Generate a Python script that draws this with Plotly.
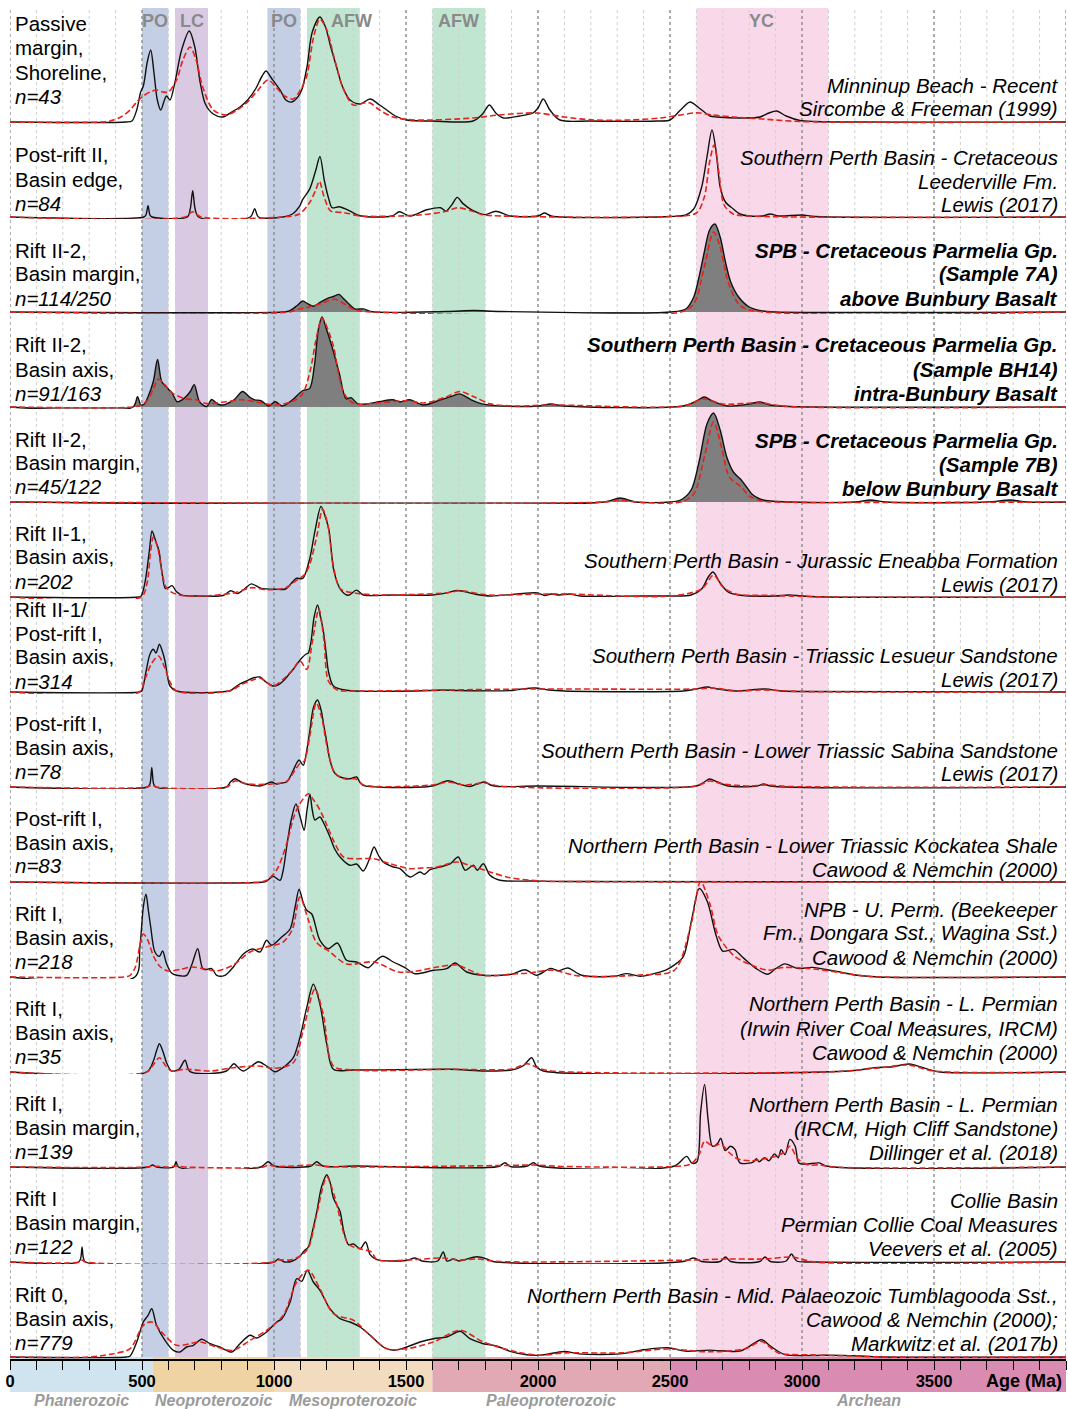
import plotly.graph_objects as go

# ---------------------------------------------------------------------------
# Detrital zircon age spectra, Perth & Collie basins (age in Ma, relative density)
# Each row: KDE (black solid) and PDP (red dashed) as (age, density) pairs.
# ---------------------------------------------------------------------------

ROW01_KDE = [(0, 0), (440, 0), (462, 1), (480, 12), (495, 30), (505, 36), (520, 60), (533, 72), (545, 50),
             (558, 22), (571, 12), (585, 22), (593, 26), (606, 22), (625, 40), (650, 72), (679, 91), (700, 75),
             (720, 40), (740, 18), (770, 8), (806, 5), (840, 10), (871, 15), (900, 22), (930, 33), (955, 46),
             (970, 51), (990, 44), (1023, 32), (1045, 22), (1067, 20), (1090, 25), (1105, 32), (1125, 55),
             (1145, 90), (1174, 105), (1195, 95), (1215, 75), (1237, 55), (1260, 35), (1288, 22), (1326, 18),
             (1364, 23), (1400, 17), (1427, 12), (1460, 6), (1503, 2), (1600, 1), (1754, 1), (1790, 8),
             (1816, 17), (1840, 9), (1869, 4), (1930, 6), (1981, 9), (2000, 14), (2020, 23), (2045, 12),
             (2083, 2), (2200, 1), (2450, 1), (2500, 2), (2540, 12), (2576, 20), (2610, 14), (2652, 6),
             (2677, 5), (2780, 4), (2841, 5), (2875, 9), (2904, 11), (2940, 6), (2992, 1.5), (3050, 0.5),
             (4000, 0)]
ROW01_PDP = [(0, 0), (350, 0), (379, 1), (420, 5), (455, 12), (480, 20), (505, 26), (530, 30), (555, 32),
             (580, 30), (600, 30), (631, 42), (655, 62), (682, 75), (705, 62), (730, 35), (770, 12), (821, 7),
             (860, 12), (896, 19), (940, 32), (978, 42), (1010, 34), (1040, 26), (1073, 23), (1100, 32),
             (1124, 46), (1150, 85), (1174, 103), (1200, 92), (1230, 62), (1260, 35), (1300, 17), (1340, 19),
             (1364, 19), (1400, 12), (1451, 5), (1530, 2), (1754, 4), (1850, 7), (1995, 9), (2100, 5),
             (2210, 2), (2350, 2), (2462, 4), (2540, 7), (2588, 9), (2614, 9), (2660, 7), (2740, 5),
             (2850, 3), (2992, 0.5), (4000, 0)]

ROW02_KDE = [(0, 0), (507, 0), (515, 2), (523, 11.4), (530, 2), (538, 0), (672, 0), (683, 8.3), (692, 26.4),
             (701, 8.3), (714, 0), (910, 0), (927, 8.3), (941, 0), (1034, 0), (1070, 3), (1096, 10.3),
             (1109, 17.6), (1135, 27.9), (1158, 46.5), (1174, 60.5), (1191, 36), (1208, 17.6), (1220, 9.3),
             (1247, 10.3), (1279, 7.2), (1325, 1.3), (1447, 1), (1475, 5.2), (1514, 1), (1579, 7.2),
             (1631, 9.3), (1651, 5.8), (1674, 12.4), (1694, 19.6), (1716, 13.4), (1749, 7.2), (1800, 2.4),
             (1840, 5.8), (1894, 1), (2000, 1), (2025, 4), (2050, 1), (2500, 0.5), (2560, 2), (2590, 8),
             (2620, 30), (2640, 60), (2659, 87), (2675, 65), (2690, 30), (2710, 15), (2740, 8), (2765, 3),
             (2800, 1), (2850, 1), (2880, 3), (2910, 1), (3000, 2), (3050, 0.5), (4000, 0)]
ROW02_PDP = [(0, 0), (662, 0), (692, 5.2), (724, 0), (1034, 0), (1096, 3), (1135, 14.5), (1158, 26.9),
             (1172, 35.7), (1189, 20.7), (1214, 6.2), (1264, 4.4), (1331, 1), (1551, 2), (1654, 5.8),
             (1696, 9.3), (1757, 5.2), (1788, 2.4), (1860, 1), (2500, 0.5), (2600, 4), (2630, 20), (2650, 55),
             (2667, 72), (2685, 45), (2705, 12), (2740, 3), (2800, 1), (4000, 0)]

ROW03_KDE = [(0, 0), (1034, 0), (1058, 1), (1086, 6.2), (1109, 11), (1127, 8.3), (1149, 5.8), (1173, 9.3),
             (1201, 13.4), (1225, 15.5), (1247, 17.6), (1263, 13.4), (1279, 9.3), (1306, 3.1), (1339, 3.1),
             (1371, 0.3), (1654, 0.5), (1757, 1.5), (1860, 0.5), (2500, 0), (2560, 3), (2590, 15), (2610, 35),
             (2630, 60), (2650, 82), (2670, 88), (2690, 75), (2710, 50), (2730, 30), (2760, 15), (2800, 5),
             (2850, 1), (2900, 0), (4000, 0)]
ROW03_PDP = [(0, 0), (1055, 0), (1096, 3), (1137, 5.2), (1189, 9.3), (1230, 12.7), (1272, 7.2), (1306, 2),
             (1344, 0.5), (2540, 0), (2590, 8), (2630, 45), (2665, 80), (2690, 65), (2720, 30), (2760, 8),
             (2800, 2), (4000, 0)]

ROW04_KDE = [(0, 0), (466, 0), (483, 10.3), (496, 2), (509, 3), (523, 10.3), (543, 25.8), (559, 47.5),
             (574, 25.8), (590, 20.7), (601, 17.6), (614, 14.2), (633, 5.2), (652, 7.2), (666, 10.3),
             (683, 15.5), (698, 22.4), (718, 5.2), (745, 0.5), (764, 7.5), (786, 3), (807, 2), (827, 4),
             (849, 7.2), (881, 15.5), (910, 9.3), (927, 7.2), (952, 6.2), (979, 1), (1005, 5.2), (1031, 1),
             (1070, 7.2), (1109, 16.5), (1135, 18.6), (1153, 41.3), (1168, 77.5), (1182, 90), (1199, 77.5),
             (1220, 60), (1247, 34), (1273, 8.3), (1292, 9.3), (1318, 3.1), (1354, 3.1), (1397, 5.2),
             (1449, 7.2), (1478, 5.2), (1514, 7.2), (1566, 2), (1631, 7.2), (1669, 10.3), (1703, 13.1),
             (1747, 7.2), (1788, 3.1), (1894, 0.7), (2000, 1), (2050, 3), (2100, 1), (2550, 1), (2600, 6),
             (2630, 10), (2660, 6), (2720, 1), (2800, 3), (2840, 5), (2880, 2), (2950, 0.5), (4000, 0)]
ROW04_PDP = [(0, 0), (466, 0), (497, 2), (523, 7.2), (543, 18.6), (562, 27.9), (585, 22.7), (614, 14.2),
             (662, 8.3), (703, 7.2), (745, 3.4), (817, 5.2), (875, 7.2), (931, 5.2), (1005, 2), (1075, 6.2),
             (1109, 13.4), (1137, 36.2), (1163, 72.3), (1182, 89), (1204, 77.5), (1227, 58.9), (1246, 31),
             (1266, 13.4), (1303, 3.4), (1396, 4.1), (1499, 6.2), (1571, 4.1), (1654, 10.3), (1703, 15.5),
             (1757, 10.3), (1819, 3.1), (1912, 1), (2050, 2), (2550, 1), (2630, 8), (2700, 3), (2840, 4),
             (2950, 0.5), (4000, 0)]

ROW05_KDE = [(0, 0), (2250, 0), (2310, 4), (2370, 0), (2500, 0), (2540, 2), (2580, 12), (2610, 40),
             (2640, 78), (2665, 89), (2690, 72), (2715, 45), (2740, 30), (2770, 22), (2790, 15), (2810, 8),
             (2840, 3), (2880, 1), (2950, 0), (3200, 0), (3260, 2), (3320, 0), (3700, 0), (3790, 2),
             (3850, 0), (4000, 0)]
ROW05_PDP = [(0, 0), (2250, 0), (2310, 2), (2370, 0), (2540, 0), (2590, 8), (2630, 45), (2665, 80),
             (2695, 55), (2725, 25), (2770, 15), (2800, 6), (2850, 1), (2900, 0), (4000, 0)]

ROW06_KDE = [(0, 0), (486, 0), (497, 1), (512, 15.5), (528, 46.5), (538, 66), (551, 56.8), (564, 46.5),
             (575, 25.8), (588, 8.6), (600, 9.3), (614, 11.4), (631, 5.2), (653, 1.7), (724, 1), (807, 1.5),
             (836, 6.2), (862, 3.4), (889, 8.3), (914, 13.1), (952, 8.6), (1003, 7.7), (1044, 8), (1065, 13.4),
             (1084, 18.6), (1109, 18.6), (1135, 37.9), (1156, 67.1), (1178, 90.6), (1194, 80.6), (1208, 67.1),
             (1227, 25.8), (1253, 7.2), (1282, 1.7), (1312, 6.9), (1339, 2), (1447, 2), (1602, 2), (1654, 4.1),
             (1696, 6.5), (1757, 3.1), (1819, 1), (1997, 4.1), (2025, 1.5), (2050, 3), (2080, 2), (2120, 3),
             (2160, 1), (2400, 1), (2500, 1), (2580, 2), (2620, 8), (2645, 20), (2663, 25), (2690, 14),
             (2720, 5), (2760, 2), (2900, 1), (2950, 2), (3000, 1), (3100, 0), (4000, 0)]
ROW06_PDP = [(0, 0), (497, 0), (518, 12.4), (533, 46.5), (543, 59.9), (559, 49.6), (575, 25.8), (590, 10.3),
             (610, 5.2), (641, 2), (724, 1), (848, 4.1), (914, 9.3), (972, 7.2), (1044, 9.3), (1084, 16.5),
             (1117, 22.7), (1137, 34), (1163, 62), (1184, 87.8), (1204, 72.3), (1225, 31), (1251, 8.3),
             (1303, 4.1), (1396, 2), (1654, 4.1), (1706, 6.2), (1809, 2), (2000, 3), (2100, 3), (2500, 1),
             (2620, 8), (2665, 22), (2700, 10), (2750, 3), (2900, 1.5), (3100, 0), (4000, 0)]

ROW07_KDE = [(0, 0), (490, 0), (499, 1), (515, 20), (530, 37.7), (543, 42.7), (553, 39), (566, 47.7),
             (578, 40), (587, 31), (597, 15), (606, 6), (631, 1), (830, 1), (846, 3.3), (870, 8), (896, 11),
             (920, 14), (947, 15), (970, 10), (997, 6), (1015, 7), (1035, 11), (1055, 17), (1073, 22.7),
             (1090, 29), (1105, 34), (1122, 38), (1130, 39), (1140, 50), (1152, 75), (1165, 87), (1176, 75),
             (1187, 61), (1198, 38), (1206, 21), (1225, 6), (1275, 1.7), (1600, 1.5), (1635, 2), (1700, 1.5),
             (1900, 1.5), (1930, 2.7), (1990, 4), (2040, 2), (2100, 1), (2550, 1), (2600, 3), (2640, 5),
             (2680, 3), (2750, 1), (2860, 3), (2920, 1), (3000, 0.5), (4000, 0)]
ROW07_PDP = [(0, 0), (490, 0), (510, 12), (535, 28), (562, 36), (585, 25), (606, 10), (631, 1), (830, 1),
             (880, 8), (920, 12), (947, 14), (975, 9), (997, 6), (1040, 14), (1070, 22), (1098, 31),
             (1124, 22.7), (1145, 50), (1170, 83), (1190, 50), (1206, 11), (1240, 2), (1300, 1), (1650, 2),
             (2000, 3), (2600, 3), (2660, 4), (2760, 1), (2850, 2), (3000, 0.5), (4000, 0)]

ROW08_KDE = [(0, 0), (520, 0), (530, 3), (537, 19.6), (544, 3), (552, 0), (820, 0), (835, 5), (852, 8.3),
             (875, 5), (896, 3), (947, 1), (970, 3), (991, 5), (1010, 3), (1030, 4), (1048, 5), (1073, 16.7),
             (1086, 24), (1095, 27), (1111, 21.7), (1125, 38), (1136, 56.7), (1150, 80), (1165, 87),
             (1180, 75), (1187, 64), (1200, 45), (1212, 26.7), (1230, 14), (1250, 10), (1288, 8.3),
             (1313, 10), (1325, 5), (1338, 1.7), (1600, 1), (1640, 5), (1660, 6.3), (1700, 3), (1742, 0.5),
             (1770, 3), (1799, 5), (1820, 2), (1850, 0.5), (2000, 1), (2600, 1), (2630, 5), (2650, 8),
             (2680, 5), (2720, 1), (2830, 1), (2855, 3), (2880, 1), (4000, 0)]
ROW08_PDP = [(0, 0), (520, 0), (537, 2), (555, 0), (820, 0), (852, 6), (900, 3), (990, 3), (1050, 6),
             (1080, 17), (1100, 24), (1115, 26), (1135, 50), (1160, 84), (1180, 70), (1205, 35), (1230, 14),
             (1270, 8), (1310, 8), (1340, 2), (1600, 2), (1660, 5), (1720, 2), (1800, 4), (1850, 1),
             (2600, 1), (2650, 6), (2700, 3), (2800, 1), (2860, 2), (2950, 0.5), (4000, 0)]

ROW09_KDE = [(0, 0), (960, 0), (972, 1), (997, 5.6), (1023, 1.7), (1035, 12), (1048, 35), (1065, 62),
             (1083, 78), (1100, 64), (1114, 51.7), (1125, 72), (1136, 87.7), (1145, 72), (1155, 62),
             (1174, 65), (1190, 58), (1212, 45), (1230, 33), (1250, 25), (1288, 16.7), (1313, 18),
             (1338, 11), (1360, 22), (1379, 35), (1395, 27), (1414, 20), (1452, 15), (1477, 13.3), (1515, 5),
             (1553, 10), (1570, 7.7), (1591, 12.3), (1629, 15), (1667, 18), (1698, 25), (1724, 11.7),
             (1755, 16.7), (1770, 11.7), (1793, 18.3), (1818, 6.7), (1856, 1.7), (1982, 1), (2100, 0.5),
             (4000, 0)]
ROW09_PDP = [(0, 0), (950, 0), (972, 1.7), (1010, 12), (1048, 38.3), (1075, 65), (1098, 78.3), (1130, 88.3),
             (1150, 82), (1174, 72), (1200, 57), (1225, 41.7), (1263, 25), (1313, 23.3), (1376, 23.3),
             (1439, 18.3), (1515, 13.3), (1560, 14), (1617, 15), (1692, 20), (1740, 16.7), (1818, 10),
             (1894, 4.3), (2008, 1), (2100, 0.5), (4000, 0)]

ROW10_KDE = [(0, 0), (473, 0), (492, 30), (505, 70), (515, 82.7), (525, 65), (533, 50), (549, 25),
             (566, 20.7), (578, 26), (593, 13.3), (612, 4), (631, 1.7), (669, 1.7), (690, 13.3), (711, 28.3),
             (732, 7.7), (764, 8.3), (783, 1.7), (814, 1.7), (846, 10), (884, 23), (919, 28), (947, 25),
             (972, 36.7), (991, 31.7), (1029, 40), (1061, 48), (1080, 70), (1095, 87.7), (1110, 75),
             (1124, 66.7), (1143, 63), (1174, 36.7), (1206, 28.3), (1240, 34), (1275, 16.7), (1313, 15),
             (1357, 9.3), (1385, 16), (1412, 20.7), (1452, 15), (1496, 9.3), (1534, 3.3), (1604, 6.7),
             (1654, 8.3), (1686, 14), (1730, 5), (1793, 1.7), (1900, 2.7), (1951, 7.3), (1995, 1.7),
             (2047, 8.6), (2078, 6.2), (2113, 9), (2165, 1.8), (2290, 0.7), (2335, 3.4), (2387, 0.7),
             (2439, 3.4), (2486, 7.2), (2517, 12.1), (2551, 20.7), (2583, 58.6), (2611, 88.5), (2641, 75.7),
             (2675, 41.3), (2700, 25.8), (2740, 27.6), (2779, 18.9), (2827, 8.3), (2870, 2.8), (2900, 8.3),
             (2935, 13.1), (2982, 8.6), (3039, 9.6), (3118, 6.2), (3209, 1.8), (3292, 0), (4000, 0)]
ROW10_PDP = [(0, 0), (430, 0), (455, 1.7), (475, 10), (492, 31.7), (505, 43), (520, 38), (545, 20),
             (570, 10), (600, 6), (650, 8), (690, 10), (740, 8), (783, 6), (846, 12), (909, 25), (972, 30),
             (1035, 35), (1070, 48), (1098, 80), (1130, 57), (1160, 35), (1212, 25), (1275, 13), (1380, 15),
             (1470, 5), (1540, 6), (1620, 10), (1690, 12), (1793, 1.7), (1920, 3.3), (1970, 4), (2053, 6.9),
             (2156, 1), (2394, 2.1), (2517, 6.9), (2579, 51.7), (2616, 95.3), (2652, 72.3), (2683, 41.3),
             (2745, 20.7), (2807, 12.1), (2869, 6.9), (2931, 9.6), (3065, 7.5), (3209, 1.8), (3292, 0),
             (4000, 0)]

ROW11_KDE = [(0, 0), (518, 0), (543, 11), (556, 22), (566, 28.3), (580, 20), (593, 9.3), (612, 1),
             (640, 2.7), (663, 11.7), (682, 0.3), (820, 1), (848, 8.3), (870, 3), (884, 1), (915, 6),
             (941, 10.3), (972, 6), (1004, 0.3), (1042, 6), (1073, 14.3), (1098, 34.3), (1124, 64.3),
             (1149, 87.7), (1174, 67.7), (1200, 27.7), (1225, 2.7), (1300, 2), (1667, 2.7), (1800, 1),
             (1900, 2), (1943, 6), (1976, 14.3), (1995, 5), (2020, 1), (3137, 0.5), (3209, 1.8), (3274, 4.4),
             (3344, 5.2), (3405, 8), (3482, 2.4), (3522, 0), (4000, 0)]
ROW11_PDP = [(0, 0), (518, 0), (545, 8), (566, 14.3), (590, 6), (612, 1), (663, 2.7), (760, 1), (846, 4.3),
             (941, 6), (1004, 3.7), (1073, 9.3), (1110, 41), (1155, 83), (1187, 57), (1225, 6), (1300, 2),
             (1667, 2.7), (1900, 3), (1960, 8.3), (2000, 4), (2050, 1), (3137, 0.5), (3292, 4.1), (3405, 6.9),
             (3499, 1), (4000, 0)]

ROW12_KDE = [(0, 0), (525, 0), (540, 2), (555, 0), (620, 0), (629, 5.3), (638, 0), (950, 0), (978, 5.3),
             (1000, 1), (1140, 1), (1162, 5.3), (1185, 1), (1313, 1), (1850, 0.5), (1875, 4.3), (1895, 0.5),
             (1960, 1), (1982, 4.3), (2005, 1), (2517, 1), (2563, 10.6), (2583, 3.8), (2602, 5.2),
             (2616, 54.7), (2631, 82.6), (2644, 48.2), (2661, 20.7), (2681, 23.8), (2692, 28.9), (2709, 16.5),
             (2729, 20.7), (2746, 17.6), (2765, 4.1), (2817, 5.2), (2827, 8.3), (2838, 5.2), (2858, 9.3),
             (2874, 6.2), (2896, 13.1), (2910, 9.3), (2921, 17.3), (2936, 12.4), (2954, 27.6), (2974, 20.7),
             (2988, 4.1), (3013, 2.8), (3065, 4.1), (3096, 0.7), (4000, 0)]
ROW12_PDP = [(0, 0), (520, 0), (540, 1), (600, 0), (629, 1), (660, 0), (960, 0), (978, 2), (1010, 0.5),
             (1162, 2), (1200, 0.5), (1875, 1.5), (1982, 2), (2100, 0.5), (2517, 0.5), (2579, 3.1),
             (2610, 12.4), (2631, 25.8), (2662, 20.7), (2693, 22.7), (2724, 14.5), (2755, 8.3), (2807, 6.2),
             (2879, 9.3), (2931, 14.5), (2955, 20.7), (2983, 8.3), (3024, 2.1), (3065, 2.1), (3117, 0),
             (4000, 0)]

ROW13_KDE = [(0, 0), (260, 0), (268, 4), (273, 15), (278, 4), (286, 0), (1000, 0), (1016, 3), (1040, 0),
             (1070, 1), (1098, 5.7), (1114, 11), (1130, 15), (1145, 30), (1162, 50), (1180, 75), (1200, 87.3),
             (1212, 80), (1225, 64), (1240, 56), (1250, 50.7), (1265, 30), (1282, 17.3), (1301, 18),
             (1326, 13.3), (1347, 20), (1364, 7.3), (1389, 2.3), (1500, 1.5), (1534, 4), (1560, 1), (1620, 1),
             (1641, 10), (1655, 1), (1680, 3), (1700, 1), (1768, 5.3), (1806, 3), (1830, 0.5), (2550, 0.5),
             (2590, 4), (2620, 0.5), (2690, 0.5), (2710, 5), (2730, 0.5), (2840, 0.5), (2860, 5),
             (2880, 0.5), (2940, 1), (2960, 8), (2980, 1), (3050, 0), (4000, 0)]
ROW13_PDP = [(0, 0), (265, 0), (273, 2), (285, 0), (1000, 0), (1016, 2), (1060, 2), (1100, 6), (1130, 14),
             (1162, 48), (1200, 85), (1230, 65), (1282, 18), (1330, 13), (1370, 10), (1389, 2.3),
             (1534, 2.5), (1641, 4), (1700, 2), (1768, 3), (1850, 0.5), (2590, 2), (2710, 3), (2860, 3),
             (2960, 5), (3050, 0), (4000, 0)]

ROW14_KDE = [(0, 0), (440, 0), (455, 1), (480, 15), (505, 35), (523, 41.7), (537, 48.3), (555, 31.7),
             (587, 16.7), (619, 6.7), (644, 5), (669, 10), (695, 11.7), (726, 17.7), (758, 13.3), (795, 10),
             (840, 5), (871, 13.3), (909, 21.7), (934, 19), (972, 25), (1010, 35), (1029, 38), (1061, 55),
             (1086, 78.3), (1105, 75.7), (1126, 86.7), (1149, 75), (1174, 66.7), (1212, 48.3), (1250, 38.3),
             (1288, 35), (1326, 30), (1364, 21.7), (1414, 10), (1452, 6.7), (1503, 10), (1553, 15),
             (1604, 18.3), (1654, 20), (1705, 25.7), (1742, 18.3), (1793, 13.3), (1843, 11), (1894, 5.7),
             (1957, 2.3), (2008, 1.7), (2100, 5.5), (2156, 3.1), (2311, 3.1), (2400, 7.2), (2492, 9.3),
             (2557, 5.9), (2648, 6.9), (2765, 5.9), (2805, 11.4), (2846, 17.3), (2883, 10.3), (2935, 2.4),
             (3092, 1.8), (3222, 1), (3313, 0), (4000, 0)]
ROW14_PDP = [(0, 0), (300, 0), (391, 3.3), (455, 8.3), (505, 31.7), (537, 35), (581, 23), (631, 11.7),
             (720, 15), (783, 10), (846, 6.7), (909, 16.7), (972, 26.7), (1035, 41.7), (1086, 75),
             (1130, 86.7), (1174, 68.3), (1225, 43.3), (1301, 36.7), (1351, 25), (1427, 8.3), (1503, 8.3),
             (1604, 15), (1705, 26.7), (1793, 15), (1919, 5), (2008, 1.7), (2100, 4.1), (2311, 4.1),
             (2492, 8), (2648, 5.2), (2786, 8.3), (2846, 15.5), (2910, 4.1), (3034, 2.1), (3189, 1),
             (3313, 0), (4000, 0)]

KDE_ROWS = [ROW01_KDE, ROW02_KDE, ROW03_KDE, ROW04_KDE, ROW05_KDE, ROW06_KDE, ROW07_KDE,
            ROW08_KDE, ROW09_KDE, ROW10_KDE, ROW11_KDE, ROW12_KDE, ROW13_KDE, ROW14_KDE]
PDP_ROWS = [ROW01_PDP, ROW02_PDP, ROW03_PDP, ROW04_PDP, ROW05_PDP, ROW06_PDP, ROW07_PDP,
            ROW08_PDP, ROW09_PDP, ROW10_PDP, ROW11_PDP, ROW12_PDP, ROW13_PDP, ROW14_PDP]
FILLED_ROWS = {2, 3, 4}   # samples shown as shaded KDE

SETTING = [["Passive", "margin,", "Shoreline,"], ["Post-rift II,", "Basin edge,"],
           ["Rift II-2,", "Basin margin,"], ["Rift II-2,", "Basin axis,"], ["Rift II-2,", "Basin margin,"],
           ["Rift II-1,", "Basin axis,"], ["Rift II-1/", "Post-rift I,", "Basin axis,"],
           ["Post-rift I,", "Basin axis,"], ["Post-rift I,", "Basin axis,"], ["Rift I,", "Basin axis,"],
           ["Rift I,", "Basin axis,"], ["Rift I,", "Basin margin,"], ["Rift I", "Basin margin,"],
           ["Rift 0,", "Basin axis,"]]
SAMPLE_N = ["n=43", "n=84", "n=114/250", "n=91/163", "n=45/122", "n=202", "n=314", "n=78", "n=83",
            "n=218", "n=35", "n=139", "n=122", "n=779"]
SOURCE = [["Minninup Beach - Recent", "Sircombe & Freeman (1999)"],
          ["Southern Perth Basin - Cretaceous", "Leederville Fm.", "Lewis (2017)"],
          ["SPB - Cretaceous Parmelia Gp.", "(Sample 7A)", "above Bunbury Basalt"],
          ["Southern Perth Basin - Cretaceous Parmelia Gp.", "(Sample BH14)", "intra-Bunbury Basalt"],
          ["SPB - Cretaceous Parmelia Gp.", "(Sample 7B)", "below Bunbury Basalt"],
          ["Southern Perth Basin - Jurassic Eneabba Formation", "Lewis (2017)"],
          ["Southern Perth Basin - Triassic Lesueur Sandstone", "Lewis (2017)"],
          ["Southern Perth Basin - Lower Triassic Sabina Sandstone", "Lewis (2017)"],
          ["Northern Perth Basin - Lower Triassic Kockatea Shale", "Cawood & Nemchin (2000)"],
          ["NPB - U. Perm. (Beekeeper", "Fm., Dongara Sst., Wagina Sst.)", "Cawood & Nemchin (2000)"],
          ["Northern Perth Basin - L. Permian", "(Irwin River Coal Measures, IRCM)", "Cawood & Nemchin (2000)"],
          ["Northern Perth Basin - L. Permian", "(IRCM, High Cliff Sandstone)", "Dillinger et al. (2018)"],
          ["Collie Basin", "Permian Collie Coal Measures", "Veevers et al. (2005)"],
          ["Northern Perth Basin - Mid. Palaeozoic Tumblagooda Sst.,", "Cawood & Nemchin (2000);",
           "Markwitz et al. (2017b)"]]

# Source-terrane age windows (Ma)
TERRANE_NAMES = ["PO", "LC", "PO", "AFW", "AFW", "YC"]
TERRANE_START = [500, 625, 975, 1125, 1600, 2600]
TERRANE_END = [600, 750, 1100, 1325, 1800, 3100]
TERRANE_LABEL_AGE = [550, 688, 1036, 1292, 1700, 2848]

# Geological eons / eras for the time bar (Ma)
ERA_NAMES = ["Phanerozoic", "Neoproterozoic", "Mesoproterozoic", "Paleoproterozoic", "Archean"]
ERA_START = [0, 541, 1000, 1600, 2500]
ERA_END = [541, 1000, 1600, 2500, 4000]

AGE_TICKS = [0, 500, 1000, 1500, 2000, 2500, 3000, 3500, 4000]
AGE_TICK_TEXT = ["0", "500", "1000", "1500", "2000", "2500", "3000", "3500", ""]

# ---------------------------------------------------------------------------
# Layout geometry and styling
# ---------------------------------------------------------------------------
W, H = 1068, 1409
PLOT_L, PLOT_R = 10, 1066          # pixel span of 0-4000 Ma
ROW_BASE0, ROW_STEP = 122, 95      # baseline of first row, row pitch (px)
ROW_HEADROOM = 110                 # px of y-range above each baseline
ROW_FOOT = 2                       # px below baseline kept visible
TOP_PX, BAR_TOP, BAR_BOT = 8, 1357, 1392

TERRANE_COLORS = ["#c4cfe6", "#d9c9e2", "#c4cfe6", "#c0e6d2", "#c0e6d2", "#f9d8e9"]
ERA_COLORS = ["#cfe4ee", "#f0d3a2", "#f3dbbf", "#e0a9b3", "#d98bb1"]
KDE_COLOR, PDP_COLOR, FILL_COLOR = "#111111", "#e5231b", "#7f7f7f"
LEFT_TOP_OFF = [98, 62, 62, 62, 63, 64, 83, 64, 64, 64, 64, 64, 64, 63]
RIGHT_BOT_OFF = [13, 12, 14, 14, 14, 13, 13, 13, 13, 20, 20, 15, 14, 14]
TEXT_FONT = "Liberation Sans, Arial, Helvetica, sans-serif"
LABEL_SIZE = 20.5
LINE_PITCH = 24


def py(px):
    """Pixel row (from top) -> paper y (plot area spans the whole figure)."""
    return 1 - px / H


def px_x(px):
    """Pixel column -> paper x."""
    return px / W


n_rows = len(KDE_ROWS)
fig = go.Figure()
layout = dict(
    width=W, height=H, autosize=False,
    margin=dict(l=0, r=0, t=0, b=0, pad=0, autoexpand=False),
    paper_bgcolor="white", plot_bgcolor="rgba(0,0,0,0)",
    showlegend=False, hovermode=False,
)

for i in range(n_rows):
    base = ROW_BASE0 + ROW_STEP * i
    ykey = "yaxis" if i == 0 else f"yaxis{i + 1}"
    yref = "y" if i == 0 else f"y{i + 1}"
    layout[ykey] = dict(domain=[py(base + ROW_FOOT), py(base - ROW_HEADROOM)],
                        range=[-ROW_FOOT, ROW_HEADROOM], visible=False, fixedrange=True,
                        automargin=False)
    kx, ky = zip(*KDE_ROWS[i])
    qx, qy = zip(*PDP_ROWS[i])
    filled = i in FILLED_ROWS
    fig.add_trace(go.Scatter(
        x=kx, y=ky, mode="lines", xaxis="x", yaxis=yref,
        line=dict(color=KDE_COLOR, width=1.4, shape="spline", smoothing=0.85),
        fill="tozeroy" if filled else None, fillcolor=FILL_COLOR if filled else None,
        hoverinfo="skip"))
    fig.add_trace(go.Scatter(
        x=qx, y=qy, mode="lines", xaxis="x", yaxis=yref,
        line=dict(color=PDP_COLOR, width=1.6, dash="6px,3px", shape="spline", smoothing=0.85),
        hoverinfo="skip"))

layout["xaxis"] = dict(
    domain=[px_x(PLOT_L), px_x(PLOT_R)], range=[0, 4000], anchor=f"y{n_rows}",
    automargin=False,
    showgrid=False, zeroline=False, showline=True, linecolor="black", linewidth=1.5,
    ticks="outside", ticklen=9, tickwidth=1.3, tickcolor="black",
    tickmode="array", tickvals=AGE_TICKS, ticktext=AGE_TICK_TEXT,
    tickfont=dict(family=TEXT_FONT, size=16.5, color="black", weight="bold"),
    ticklabelstandoff=-3,
    minor=dict(ticks="outside", ticklen=9, tickwidth=1.3, tickcolor="black", dtick=100, tick0=0,
               showgrid=False),
    fixedrange=True)

shapes = []
# terrane windows
for s, e, c in zip(TERRANE_START, TERRANE_END, TERRANE_COLORS):
    shapes.append(dict(type="rect", xref="x", yref="paper", x0=s, x1=e, y0=py(BAR_TOP), y1=py(TOP_PX),
                       fillcolor=c, line=dict(width=0), layer="below"))
# dotted age grid
for a in range(0, 4001, 100):
    major = a % 500 == 0
    shapes.append(dict(type="line", xref="x", yref="paper", x0=a, x1=a, y0=py(BAR_TOP), y1=py(TOP_PX),
                       line=dict(color="#8c8c8c" if major else "#cfcfcf", width=1.4 if major else 1,
                                 dash="dot"), layer="below"))
# time bar
for s, e, c in zip(ERA_START, ERA_END, ERA_COLORS):
    shapes.append(dict(type="rect", xref="x", yref="paper", x0=s, x1=e, y0=py(BAR_BOT), y1=py(BAR_TOP),
                       fillcolor=c, line=dict(width=0), layer="below"))
layout["shapes"] = shapes

ann = []


def text_line(x_px, y_px, text, anchor, size=LABEL_SIZE, color="black"):
    ann.append(dict(x=px_x(x_px), xref="paper", y=py(y_px), yref="paper", text=text,
                    showarrow=False, xanchor=anchor, yanchor="middle", borderpad=0, borderwidth=0,
                    font=dict(family=TEXT_FONT, size=size, color=color)))


for name, a in zip(TERRANE_NAMES, TERRANE_LABEL_AGE):
    ann.append(dict(x=a, xref="x", y=py(21), yref="paper", text=f"<b>{name}</b>", showarrow=False,
                    xanchor="center", yanchor="middle",
                    font=dict(family=TEXT_FONT, size=18, color="#8a8a8a")))

for i in range(n_rows):
    base = ROW_BASE0 + ROW_STEP * i
    lines = SETTING[i] + [f"<i>{SAMPLE_N[i]}</i>"]
    top = base - LEFT_TOP_OFF[i]
    for k, t in enumerate(lines):
        text_line(15, top + k * LINE_PITCH, t, "left")
    src = SOURCE[i]
    bottom = base - RIGHT_BOT_OFF[i]
    for k, t in enumerate(src):
        body = f"<b><i>{t}</i></b>" if i in FILLED_ROWS else f"<i>{t}</i>"
        text_line(1058, bottom - (len(src) - 1 - k) * LINE_PITCH, body, "right")

for name, s, e in zip(ERA_NAMES, ERA_START, ERA_END):
    ann.append(dict(x=(s + e) / 2, xref="x", y=py(1400), yref="paper", text=f"<b><i>{name}</i></b>",
                    showarrow=False, xanchor="center", yanchor="middle",
                    font=dict(family=TEXT_FONT, size=16, color="#9b9b9b")))

text_line(1062, 1381, "<b>Age (Ma)</b>", "right", size=18)
layout["annotations"] = ann

fig.update_layout(**layout)
fig.write_html("out.html")
